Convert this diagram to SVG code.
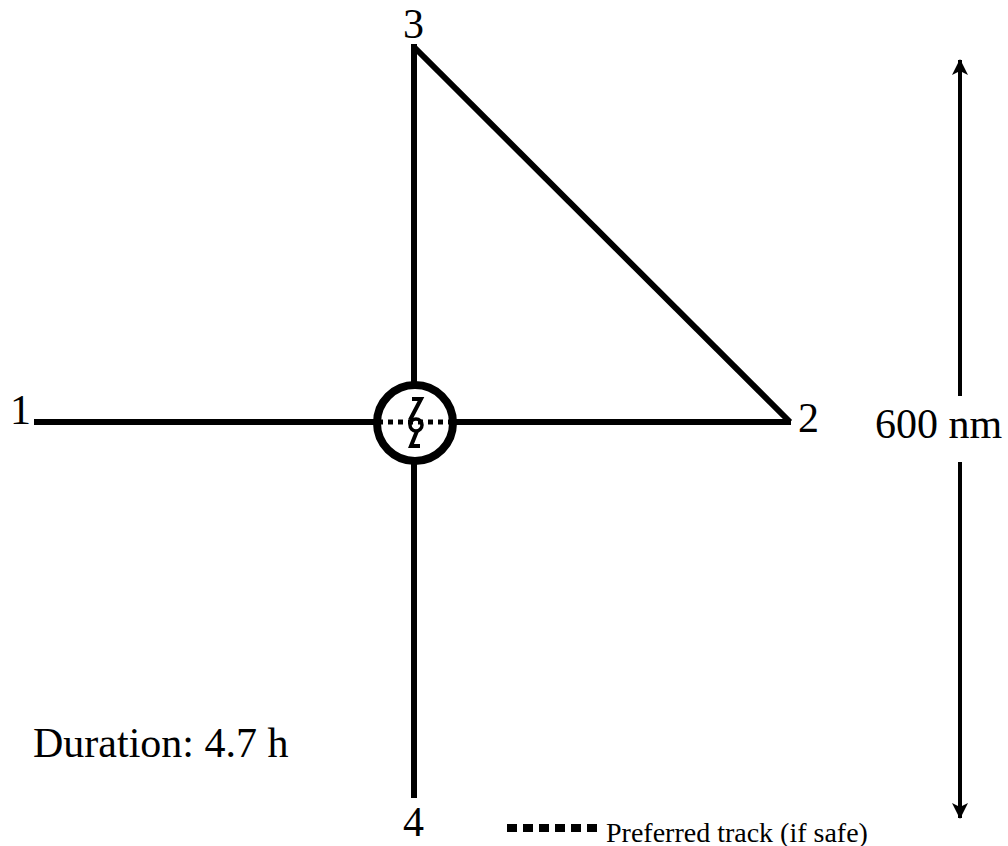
<svg xmlns="http://www.w3.org/2000/svg" width="1008" height="846" viewBox="0 0 1008 846">
<style>
.ln{stroke:#000;stroke-width:6;fill:none}
.dot{stroke:#000;stroke-width:5;stroke-dasharray:5 5;fill:none}
.lbl{font-family:"Liberation Serif",serif;font-size:42px;fill:#000}
</style>
<defs>
<marker id="ah2" markerWidth="16" markerHeight="16" refX="15" refY="8" orient="auto" markerUnits="userSpaceOnUse" viewBox="0 0 16 16">
<path d="M0,0 L16,8 L0,16 L4,8 Z" fill="#000"/>
</marker>
</defs>
<g id="connectors">
<line class="ln" x1="34" y1="422" x2="378" y2="422"/>
<line class="ln" x1="452" y1="422" x2="791" y2="422"/>
<line class="ln" x1="414" y1="44" x2="414" y2="385"/>
<line class="ln" x1="414" y1="460" x2="414" y2="798"/>
<line class="ln" x1="414" y1="47" x2="790" y2="422"/>
<line class="dot" x1="378" y1="422" x2="456" y2="422"/>
<line stroke="#000" stroke-width="4" x1="960" y1="396" x2="960" y2="60" marker-end="url(#ah2)"/>
<line stroke="#000" stroke-width="4" x1="960" y1="462" x2="960" y2="818" marker-end="url(#ah2)"/>
</g>
<g id="center">
<circle cx="415" cy="423" r="38" stroke="#000" stroke-width="8" fill="none"/>
<path d="M412,399 L421,399 L410,420 M417,431 L411,446 L420,446" stroke="#000" stroke-width="4" fill="none"/>
<circle cx="416" cy="425" r="6" stroke="#000" stroke-width="3.5" fill="none"/>
</g>
<g id="node1"><text class="lbl" x="10" y="424">1</text></g>
<g id="node2"><text class="lbl" x="798" y="432">2</text></g>
<g id="node3"><text class="lbl" x="403" y="38">3</text></g>
<g id="node4"><text class="lbl" x="403" y="836">4</text></g>
<g id="scale"><text class="lbl" x="875" y="438">600 nm</text></g>
<g id="duration"><text class="lbl" x="33" y="757">Duration: 4.7 h</text></g>
<g id="legend">
<line stroke="#000" stroke-width="8" stroke-dasharray="10 6" x1="507" y1="828" x2="597" y2="828"/>
<text x="606" y="842" style="font-family:'Liberation Serif',serif;font-size:28px">Preferred track (if safe)</text>
</g>
</svg>
